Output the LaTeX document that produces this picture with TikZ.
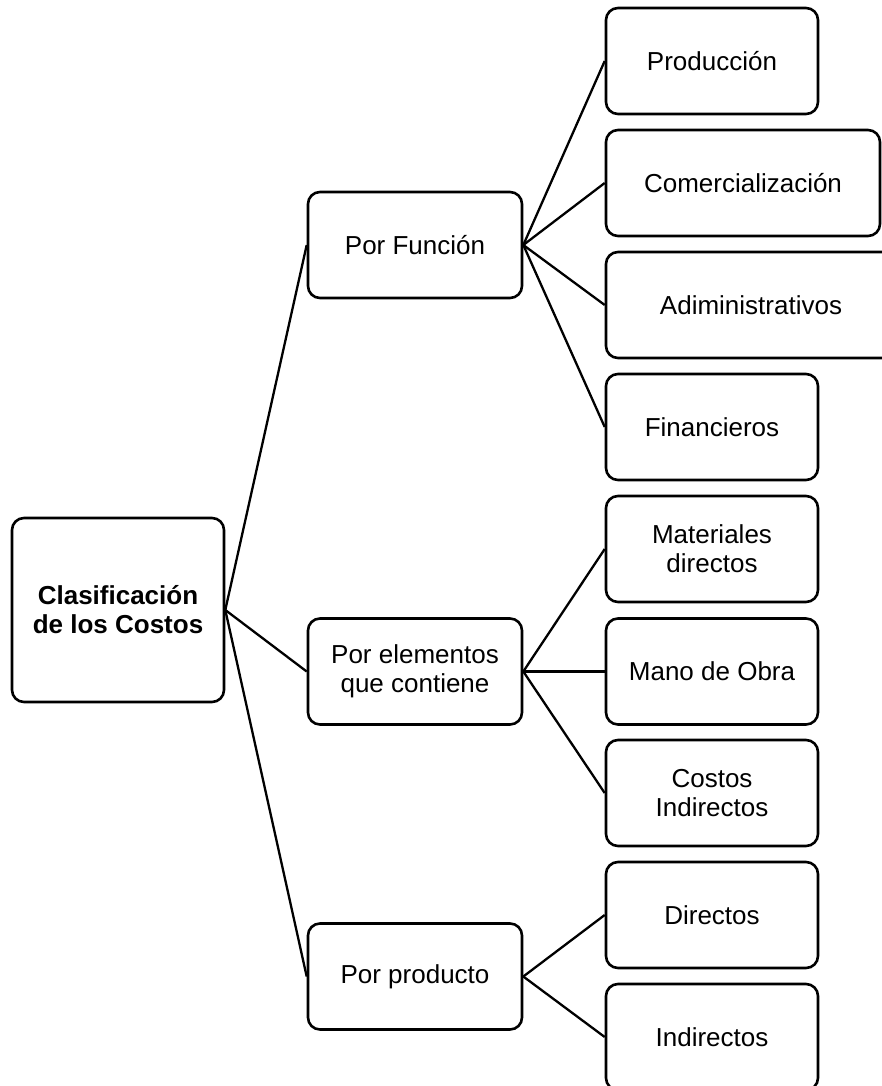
\documentclass[tikz,border=0pt]{standalone}
\usepackage{fontspec}
\setmainfont{Liberation Sans}
\begin{document}
\begin{tikzpicture}[x=1pt,y=-1pt,
  box/.style={draw=black, line width=2.6pt, rounded corners=12pt, inner sep=0pt,
    align=center, font=\fontsize{26}{29}\selectfont, minimum height=106pt},
  rootbox/.style={box, minimum width=212pt, minimum height=184pt, font=\fontsize{26}{29}\selectfont\bfseries},
  midbox/.style={box, minimum width=214pt},
  leafbox/.style={box, minimum width=212pt},
  link/.style={draw=black, line width=2.3pt}]
\useasboundingbox (0,0) rectangle (881,1086);
\fill[white] (0,0) rectangle (881,1086);
% root
\node[rootbox] (root) at (118,610) {Clasificación\\de los Costos};
% level 2
\node[midbox] (fun) at (415,245) {Por Función};
\node[midbox] (ele) at (415,671.5) {Por elementos\\que contiene};
\node[midbox] (pro) at (415,976.5) {Por producto};
% level 3
\node[leafbox] (p1) at (712,61) {Producción};
\node[box, minimum width=274pt] (p2) at (743,183) {Comercialización};
\node[box, minimum width=290pt] (p3) at (751,305) {Adiministrativos};
\node[leafbox] (p4) at (712,427) {Financieros};
\node[leafbox] (e1) at (712,549) {Materiales\\directos};
\node[leafbox] (e2) at (712,671.5) {Mano de Obra};
\node[leafbox] (e3) at (712,793) {Costos\\Indirectos};
\node[leafbox] (d1) at (712,915) {Directos};
\node[leafbox] (d2) at (712,1037) {Indirectos};
% connectors
\draw[link] (root.east) -- (fun.west);
\draw[link] (root.east) -- (ele.west);
\draw[link] (root.east) -- (pro.west);
\foreach \t in {p1,p2,p3,p4} \draw[link] (fun.east) -- (\t.west);
\foreach \t in {e1,e2,e3} \draw[link] (ele.east) -- (\t.west);
\foreach \t in {d1,d2} \draw[link] (pro.east) -- (\t.west);
\end{tikzpicture}
\end{document}
